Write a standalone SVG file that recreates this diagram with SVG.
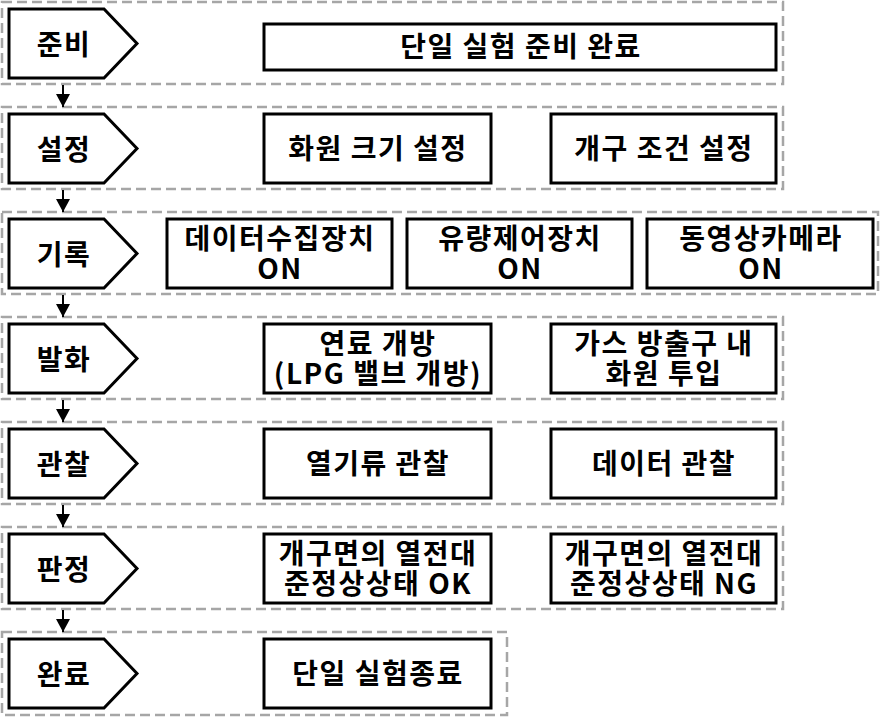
<svg xmlns="http://www.w3.org/2000/svg" width="883" height="718" viewBox="0 0 883 718">
<style>
.grp{fill:none;stroke:#a6a6a6;stroke-width:2.5;stroke-dasharray:10 5}
.box{fill:#fff;stroke:#000;stroke-width:3}
.t{font-family:"Malgun Gothic","Noto Sans CJK KR",sans-serif;font-weight:bold;font-size:28px;letter-spacing:1.5px;fill:#000;text-anchor:middle}
.con{stroke:#000;stroke-width:2;fill:none}
</style>
<defs>
<marker id="ah" markerWidth="14" markerHeight="14" refX="13" refY="7" orient="auto" markerUnits="userSpaceOnUse">
<path d="M0,0 L13,7 L0,14 Z" fill="#000"/>
</marker>
<path id="pent" d="M9,9 H104 L137,43.5 L104,78 H9 Z"/>
</defs>
<rect fill="#fff" width="883" height="718"/>
<g id="groups">
<rect class="grp" x="2" y="2" width="781" height="82"/>
<rect class="grp" x="2" y="107" width="781" height="82"/>
<rect class="grp" x="2" y="212" width="876" height="82"/>
<rect class="grp" x="2" y="317" width="781" height="82"/>
<rect class="grp" x="2" y="422" width="781" height="82"/>
<rect class="grp" x="2" y="527" width="781" height="82"/>
<rect class="grp" x="2" y="632" width="505" height="83"/>
</g>
<g id="connectors">
<line class="con" x1="63" y1="85" x2="63" y2="107" marker-end="url(#ah)"/>
<line class="con" x1="63" y1="190" x2="63" y2="212" marker-end="url(#ah)"/>
<line class="con" x1="63" y1="295" x2="63" y2="317" marker-end="url(#ah)"/>
<line class="con" x1="63" y1="400" x2="63" y2="422" marker-end="url(#ah)"/>
<line class="con" x1="63" y1="505" x2="63" y2="527" marker-end="url(#ah)"/>
<line class="con" x1="63" y1="610" x2="63" y2="632" marker-end="url(#ah)"/>
</g>
<g id="step-prep"><use href="#pent" class="box"/><text class="t" x="64" y="55">준비</text></g>
<g id="step-set" transform="translate(0,105)"><use href="#pent" class="box"/><text class="t" x="64" y="55">설정</text></g>
<g id="step-rec" transform="translate(0,210)"><use href="#pent" class="box"/><text class="t" x="64" y="55">기록</text></g>
<g id="step-ign" transform="translate(0,315)"><use href="#pent" class="box"/><text class="t" x="64" y="55">발화</text></g>
<g id="step-obs" transform="translate(0,420)"><use href="#pent" class="box"/><text class="t" x="64" y="55">관찰</text></g>
<g id="step-judge" transform="translate(0,525)"><use href="#pent" class="box"/><text class="t" x="64" y="55">판정</text></g>
<g id="step-done" transform="translate(0,630)"><use href="#pent" class="box"/><text class="t" x="64" y="55">완료</text></g>

<g id="n-ready"><rect class="box" x="264" y="24" width="512" height="46"/><text class="t" x="521" y="57">단일 실험 준비 완료</text></g>
<g id="n-size"><rect class="box" x="264" y="114" width="227" height="69"/><text class="t" x="378" y="159">화원 크기 설정</text></g>
<g id="n-open"><rect class="box" x="551" y="114" width="225" height="69"/><text class="t" x="664" y="159">개구 조건 설정</text></g>
<g id="n-daq"><rect class="box" x="167" y="219" width="225" height="69"/><text class="t" x="280" y="249">데이터수집장치</text><text class="t" x="280" y="279">ON</text></g>
<g id="n-flow"><rect class="box" x="407" y="219" width="225" height="69"/><text class="t" x="520" y="249">유량제어장치</text><text class="t" x="520" y="279">ON</text></g>
<g id="n-cam"><rect class="box" x="647" y="219" width="226" height="69"/><text class="t" x="761" y="249">동영상카메라</text><text class="t" x="761" y="279">ON</text></g>
<g id="n-fuel"><rect class="box" x="264" y="324" width="227" height="69"/><text class="t" x="378" y="354">연료 개방</text><text class="t" x="378" y="384">(LPG 밸브 개방)</text></g>
<g id="n-fire"><rect class="box" x="551" y="324" width="225" height="69"/><text class="t" x="664" y="354">가스 방출구 내</text><text class="t" x="664" y="384">화원 투입</text></g>
<g id="n-heat"><rect class="box" x="264" y="429" width="227" height="69"/><text class="t" x="378" y="474">열기류 관찰</text></g>
<g id="n-data"><rect class="box" x="551" y="429" width="225" height="69"/><text class="t" x="664" y="474">데이터 관찰</text></g>
<g id="n-ok"><rect class="box" x="264" y="534" width="227" height="69"/><text class="t" x="378" y="564">개구면의 열전대</text><text class="t" x="378" y="594">준정상상태 OK</text></g>
<g id="n-ng"><rect class="box" x="551" y="534" width="225" height="69"/><text class="t" x="664" y="564">개구면의 열전대</text><text class="t" x="664" y="594">준정상상태 NG</text></g>
<g id="n-end"><rect class="box" x="264" y="639" width="227" height="69"/><text class="t" x="378" y="684">단일 실험종료</text></g>
</svg>
